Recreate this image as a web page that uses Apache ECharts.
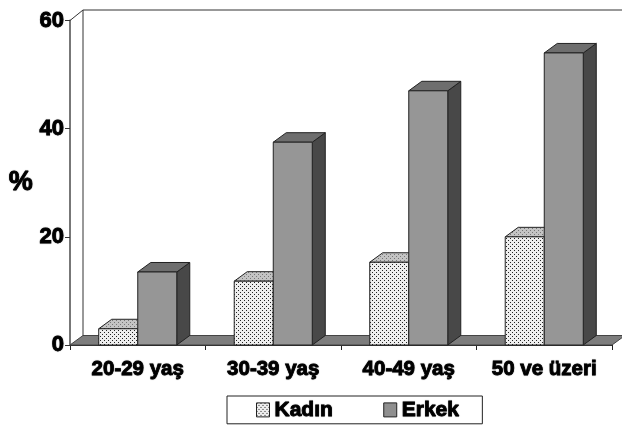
<!DOCTYPE html>
<html>
<head>
<meta charset="utf-8">
<style>html,body{margin:0;padding:0;background:#fff}#chart{width:622px;height:427px}</style>
<script src="https://cdn.jsdelivr.net/npm/echarts@6/dist/echarts.min.js"></script>
</head>
<body>
<div id="chart"></div>
<script>
const categories = ['20-29 yaş', '30-39 yaş', '40-49 yaş', '50 ve üzeri']
const kadin = [3, 11.8, 15.3, 20]
const erkek = [13.5, 37.5, 47, 54]
const yTicks = { min: 0, max: 60, interval: 20 }

const depthX = 13
const depthY = 9.5
const barRatio = 0.288
const textFont = 'Liberation Sans'

function dots(bg, fg) {
  const c = document.createElement('canvas')
  c.width = 4
  c.height = 4
  const ctx = c.getContext('2d')
  ctx.fillStyle = bg
  ctx.fillRect(0, 0, 4, 4)
  ctx.fillStyle = fg
  ctx.fillRect(0, 0, 1, 1)
  ctx.fillRect(2, 2, 1, 1)
  return { image: c, repeat: 'repeat' }
}

const frontDots = dots('#eeeeee', '#222222')
const topDots = dots('#c4c4c4', '#777777')
const outline = { stroke: '#222222', lineWidth: 1 }

function poly(points, fill) {
  return { type: 'polygon', shape: { points }, style: Object.assign({ fill }, outline) }
}

// one 3d box, offset is -1 for the left bar and 0 for the right one
function box(offset, front, top, side) {
  return function (params, api) {
    const i = api.value(0)
    const t = api.coord([i, api.value(1)])
    const b = api.coord([i, 0])
    const w = api.size([1, 0])[0] * barRatio
    const l = t[0] + offset * w
    const r = l + w
    return {
      type: 'group',
      children: [
        poly([[r, t[1]], [r + depthX, t[1] - depthY], [r + depthX, b[1] - depthY], [r, b[1]]], side),
        poly([[l, t[1]], [l + depthX, t[1] - depthY], [r + depthX, t[1] - depthY], [r, t[1]]], top),
        poly([[l, t[1]], [r, t[1]], [r, b[1]], [l, b[1]]], front)
      ]
    }
  }
}

function walls(params) {
  const g = params.coordSys
  const x0 = g.x
  const x1 = g.x + g.width
  const y0 = g.y
  const y1 = g.y + g.height
  const lines = [
    [[x0, y0], [x0 + depthX, y0 - depthY - 1]],
    [[x0 + depthX, y0 - depthY - 1], [x1 + depthX, y0 - depthY - 1]],
    [[x0 + depthX, y0 - depthY - 1], [x0 + depthX, y1 - depthY]]
  ]
  return {
    type: 'group',
    children: [
      { type: 'polygon', shape: { points: [[x0, y1], [x0 + depthX, y1 - depthY], [x1 + depthX, y1 - depthY], [x1, y1]] },
        style: { fill: '#7d7d7d', stroke: '#444444', lineWidth: 1 } }
    ].concat(lines.map(p => ({
      type: 'line',
      shape: { x1: p[0][0], y1: p[0][1], x2: p[1][0], y2: p[1][1] },
      style: { stroke: '#333333', lineWidth: 1 }
    })))
  }
}

const boldText = {
  fontFamily: textFont,
  fontWeight: 'bold',
  fontSize: 20,
  color: '#000',
  textBorderColor: '#000',
  textBorderWidth: 0.8,
  textShadowColor: 'rgba(0,0,0,0.5)',
  textShadowBlur: 1
}

const chart = echarts.init(document.getElementById('chart'))
chart.setOption({
  animation: false,
  backgroundColor: '#fff',
  grid: { left: 70, right: 10, top: 20.5, bottom: 82, outerBoundsMode: 'none' },
  xAxis: {
    type: 'category',
    data: categories,
    axisLine: { lineStyle: { color: '#222', width: 1 } },
    axisTick: { show: true, length: 5, lineStyle: { color: '#222' } },
    axisLabel: Object.assign({ margin: 14, interval: 0 }, boldText, { fontSize: 20.5 })
  },
  yAxis: {
    type: 'value',
    min: yTicks.min,
    max: yTicks.max,
    interval: yTicks.interval,
    name: '%',
    nameLocation: 'middle',
    nameRotate: 0,
    nameGap: 37,
    nameTextStyle: Object.assign({}, boldText, { fontSize: 27 }),
    splitLine: { show: false },
    axisLine: { show: true, lineStyle: { color: '#777', width: 2 } },
    axisTick: { show: true, length: 5, lineStyle: { color: '#333' } },
    axisLabel: Object.assign({ margin: 6 }, boldText, { fontSize: 22 })
  },
  legend: {
    left: 227,
    top: 396,
    data: [
      { name: 'Kadın', icon: 'rect', itemStyle: { color: frontDots, borderColor: '#222', borderWidth: 1 } },
      { name: 'Erkek', icon: 'rect', itemStyle: { color: '#8f8f8f', borderColor: '#222', borderWidth: 1 } }
    ],
    itemWidth: 13,
    itemHeight: 14,
    itemGap: 50,
    padding: [3, 23, 3, 29],
    borderColor: '#222',
    borderWidth: 1,
    backgroundColor: '#fff',
    textStyle: Object.assign({}, boldText, { fontSize: 21 })
  },
  series: [
    { type: 'custom', name: 'zemin', silent: true, z: 1, renderItem: walls, data: [[0, 0]] },
    { type: 'custom', name: 'Kadın', z: 2, renderItem: box(-1, frontDots, topDots, '#6a6a6a'),
      itemStyle: { color: frontDots }, encode: { x: 0, y: 1 },
      data: kadin.map((v, i) => [i, v]) },
    { type: 'custom', name: 'Erkek', z: 3, renderItem: box(0, '#969696', '#6e6e6e', '#484848'),
      itemStyle: { color: '#8f8f8f' }, encode: { x: 0, y: 1 },
      data: erkek.map((v, i) => [i, v]) }
  ]
})
</script>
</body>
</html>
